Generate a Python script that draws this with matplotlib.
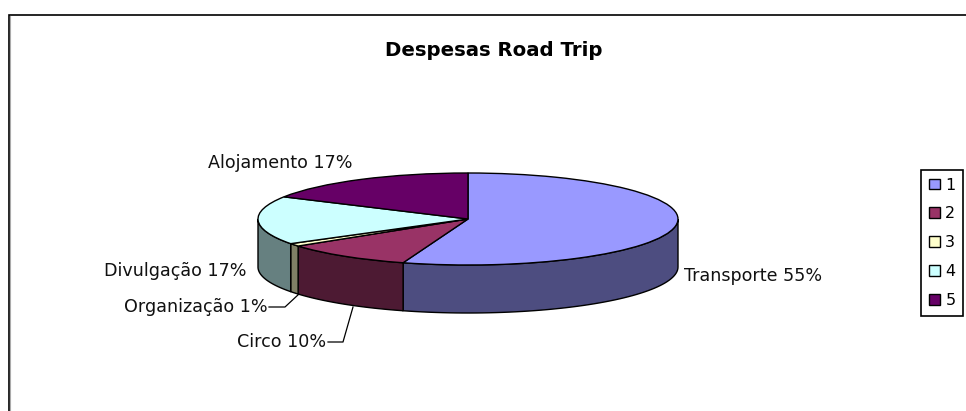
import numpy as np
import matplotlib
matplotlib.use('Agg')
import matplotlib.pyplot as plt
from matplotlib.patches import Patch

# pie data
series_names = ['1', '2', '3', '4', '5']
labels = ['Transporte 55%', 'Circo 10%', 'Organização 1%', 'Divulgação 17%', 'Alojamento 17%']
values = [55, 10, 1, 17, 17]
top_colors = ['#9999FF', '#993366', '#FFFFCC', '#CCFFFF', '#660066']
side_colors = ['#4D4D80', '#4D1A33', '#808066', '#668080', '#330033']

W, H = 966, 411
plt.rcParams['font.family'] = ['DejaVu Sans']
fig = plt.figure(figsize=(W/100, H/100), dpi=100)

# overlay in pixel coordinates for frame, text and leader lines
bg = fig.add_axes([0, 0, 1, 1])
bg.set_xlim(0, W)
bg.set_ylim(H, 0)
bg.axis('off')
bg.plot([8.5, 8.5, W], [H, 15, 15], color='black', lw=1.2, solid_joinstyle='miter')
bg.plot([10, 10], [H, 16.5], color='#aaaaaa', lw=0.8)

bg.text(494, 51, 'Despesas Road Trip', ha='center', va='center', fontsize=14.2, fontweight='bold')
fs = 12.6
bg.text(684, 275.5, labels[0], ha='left', va='center', fontsize=fs, color='#111111')
bg.text(326, 342, labels[1], ha='right', va='center', fontsize=fs, color='#111111')
bg.text(268, 307, labels[2], ha='right', va='center', fontsize=fs, color='#111111')
bg.text(247, 271, labels[3], ha='right', va='center', fontsize=fs, color='#111111')
bg.text(352, 163, labels[4], ha='right', va='center', fontsize=fs, color='#111111')
bg.plot([328, 343, 353], [342, 342, 307], color='black', lw=0.9)
bg.plot([269, 285, 299], [307, 307, 294], color='black', lw=0.9)

# pie axes: ellipse box in pixels, aspect left free so the pie gets flattened
cx, cy, rx, ry, depth = 468, 219, 210, 46, 48
d = depth / ry
ax = fig.add_axes([(cx-rx)/W, 1-(cy+ry+depth)/H, 2*rx/W, (2*ry+depth)/H])
ax.patch.set_alpha(0)

# walls, only the front part of the ellipse shows
frac = np.cumsum([0] + values) / sum(values)
for i in range(len(values)):
    a0 = max(frac[i]*2*np.pi, np.pi/2)
    a1 = min(frac[i+1]*2*np.pi, 3*np.pi/2)
    if a1 <= a0:
        continue
    t = np.linspace(a0, a1, 60)
    x = np.sin(t)
    y = np.cos(t)
    ax.fill(np.r_[x, x[::-1]], np.r_[y, y[::-1]-d], color=side_colors[i], ec='black', lw=1,
            zorder=1, clip_on=False)

ax.pie(values, colors=top_colors, startangle=90, counterclock=False, radius=1,
       wedgeprops={'edgecolor': 'black', 'linewidth': 1, 'zorder': 2, 'clip_on': False})
ax.set_aspect('auto')
ax.set_xlim(-1, 1)
ax.set_ylim(-1-d, 1)
ax.axis('off')

handles = [Patch(facecolor=c, edgecolor='black', lw=1) for c in top_colors]
leg = fig.legend(handles, series_names, loc='upper left', bbox_to_anchor=(921/W, 1-170/H),
                 borderaxespad=0, fancybox=False, framealpha=1, edgecolor='black',
                 fontsize=11.5, handlelength=0.75, handleheight=0.65, handletextpad=0.3,
                 labelspacing=0.87, borderpad=0.47)
leg.get_frame().set_linewidth(1.2)

fig.savefig('out.png', dpi=100)
